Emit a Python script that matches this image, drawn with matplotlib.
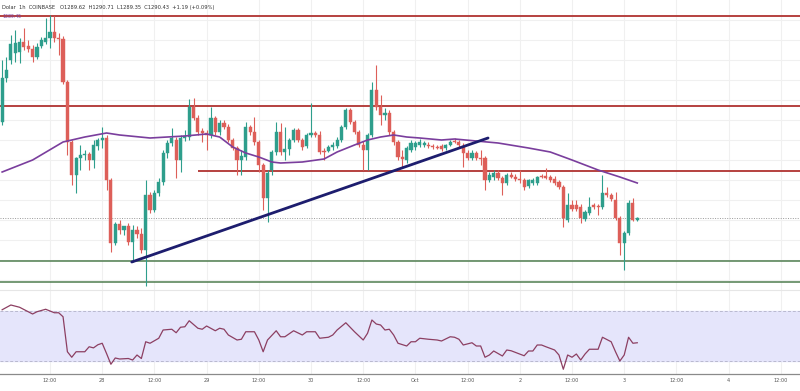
import matplotlib
matplotlib.use("Agg")
import matplotlib.pyplot as plt

# ---------------- data ----------------
hours = list(range(1, 148))  # hourly candles, hours since 27 Sep 00:00

opens = [1299.8,1304.2,1306.0,1306.7,1306.8,1307.8,1307.4,1307.1,1306.3,1307.4,
         1307.8,1308.2,1308.8,1308.2,1308.1,1303.8,1297.8,1294.5,1296.2,1296.5,
         1296.6,1296.0,1297.4,1298.0,1298.2,1294.0,1287.7,1289.6,1289.0,1289.4,
         1287.8,1289.0,1288.6,1287.0,1292.5,1291.0,1292.7,1293.8,1296.7,1297.7,
         1298.0,1296.0,1298.2,1298.3,1301.3,1300.2,1298.9,1298.7,1298.5,1300.2,
         1298.8,1299.7,1299.3,1298.0,1297.2,1296.0,1296.3,1299.3,1298.8,1297.8,
         1295.5,1292.2,1295.0,1296.8,1298.8,1296.8,1297.1,1298.0,1299.0,1298.0,
         1297.4,1298.5,1298.7,1298.5,1296.9,1296.9,1297.3,1297.4,1298.0,1299.3,
         1301.0,1299.8,1298.8,1297.5,1297.0,1298.5,1303.0,1301.3,1300.5,1300.7,
         1298.8,1297.8,1296.3,1296.0,1297.0,1297.3,1297.5,1297.5,1297.5,1297.4,
         1297.3,1297.4,1297.2,1297.5,1297.9,1297.8,1297.4,1296.7,1296.2,1296.7,
         1296.2,1296.2,1294.0,1294.3,1294.7,1294.2,1293.7,1294.5,1294.3,1294.1,
         1294.0,1293.4,1293.7,1293.7,1294.4,1294.4,1294.3,1294.1,1293.8,1293.3,
         1290.0,1291.5,1291.5,1291.3,1290.1,1290.7,1291.5,1291.4,1291.3,1292.7,
         1292.5,1292.0,1290.2,1287.7,1288.7,1291.7,1290.0]
highs = [1306.0,1306.3,1308.5,1309.0,1308.2,1309.2,1308.0,1307.5,1307.7,1308.3,
         1310.2,1310.5,1310.4,1308.7,1308.4,1304.0,1298.0,1296.3,1297.5,1297.0,
         1296.8,1298.0,1298.2,1299.3,1298.5,1294.2,1289.8,1290.0,1289.4,1289.7,
         1289.5,1289.4,1289.2,1294.0,1292.8,1293.0,1294.2,1297.0,1298.0,1299.2,
         1298.3,1298.5,1299.0,1302.1,1302.2,1300.5,1299.2,1299.0,1301.3,1300.4,
         1300.0,1300.0,1299.6,1298.2,1297.4,1297.0,1299.8,1299.5,1300.3,1298.0,
         1295.7,1295.0,1297.0,1299.8,1299.7,1299.3,1298.2,1299.2,1299.2,1298.2,
         1298.7,1301.7,1298.9,1298.9,1297.2,1297.5,1297.8,1298.3,1299.5,1301.2,
         1301.2,1300.0,1299.0,1297.9,1298.7,1303.8,1305.5,1302.5,1301.2,1301.0,
         1299.0,1298.0,1297.0,1297.4,1298.0,1297.9,1298.1,1297.9,1297.8,1297.6,
         1297.5,1297.6,1297.6,1298.0,1298.2,1298.0,1297.7,1297.0,1297.0,1296.9,
         1297.0,1296.4,1294.8,1295.0,1295.0,1294.4,1294.7,1294.8,1294.6,1295.0,
         1294.2,1294.1,1294.2,1294.4,1294.6,1295.2,1294.5,1294.4,1294.0,1293.5,
         1292.7,1292.0,1292.0,1291.6,1291.0,1292.3,1291.7,1291.6,1294.5,1293.3,
         1292.7,1292.8,1290.4,1288.9,1292.0,1292.2,1290.3]
lows = [1299.5,1303.8,1305.6,1305.8,1305.7,1307.0,1306.8,1305.8,1306.1,1307.2,
        1307.6,1307.2,1307.8,1306.5,1303.6,1296.5,1293.5,1292.7,1295.0,1296.0,
        1295.0,1295.2,1297.0,1297.2,1293.0,1286.8,1287.5,1288.6,1288.5,1287.5,
        1285.8,1288.2,1286.7,1283.4,1290.7,1290.8,1292.4,1293.5,1296.2,1297.4,
        1294.2,1294.8,1297.9,1298.0,1300.0,1298.5,1297.8,1297.0,1298.2,1298.5,
        1298.5,1299.1,1297.8,1297.0,1294.5,1294.5,1296.0,1298.5,1297.5,1294.8,
        1291.0,1289.8,1294.5,1296.5,1296.5,1296.0,1296.5,1297.8,1297.8,1297.0,
        1297.2,1298.3,1298.3,1296.6,1296.0,1296.8,1297.0,1297.2,1297.8,1299.1,
        1299.6,1298.6,1297.3,1295.0,1295.0,1298.3,1301.0,1299.5,1300.0,1298.5,
        1297.5,1296.0,1295.3,1295.7,1296.8,1297.0,1297.3,1297.3,1297.2,1297.1,
        1297.1,1296.9,1297.0,1297.4,1297.7,1297.3,1295.3,1296.0,1296.0,1296.0,
        1295.5,1293.0,1293.8,1294.0,1294.0,1292.5,1293.5,1294.2,1293.9,1293.7,
        1293.0,1293.2,1293.5,1293.5,1294.2,1294.1,1293.8,1293.5,1293.1,1289.3,
        1289.8,1290.9,1290.9,1289.7,1289.9,1290.5,1291.1,1290.5,1291.1,1292.3,
        1291.9,1290.0,1286.5,1285.0,1288.5,1289.9,1289.9]
closes = [1304.2,1305.0,1307.6,1307.7,1307.8,1307.3,1307.1,1306.3,1307.3,1308.0,
          1308.2,1308.8,1308.2,1308.1,1303.8,1297.8,1294.5,1296.2,1296.5,1296.6,
          1296.0,1297.5,1298.0,1298.2,1294.0,1287.7,1289.6,1289.0,1289.4,1287.8,
          1289.0,1288.6,1287.0,1292.5,1291.0,1292.7,1293.8,1296.7,1297.7,1298.2,
          1296.0,1298.2,1298.4,1301.3,1300.2,1298.8,1298.7,1298.5,1300.2,1298.8,
          1299.7,1299.3,1298.0,1297.2,1296.0,1296.4,1299.3,1298.8,1297.8,1295.5,
          1292.2,1294.7,1296.8,1298.8,1296.8,1297.1,1298.0,1299.0,1298.0,1297.3,
          1298.5,1298.7,1298.5,1296.8,1296.8,1297.3,1297.5,1298.0,1299.3,1301.0,
          1299.8,1298.8,1297.5,1297.0,1298.5,1303.0,1301.3,1300.5,1300.7,1298.8,
          1297.8,1296.3,1296.1,1297.2,1297.7,1297.7,1297.8,1297.7,1297.45,1297.3,
          1297.25,1297.1,1297.5,1297.8,1297.85,1297.5,1296.7,1296.2,1296.7,1296.2,
          1296.15,1294.0,1294.5,1294.7,1294.2,1293.7,1294.5,1294.3,1294.1,1294.05,
          1293.3,1294.0,1294.0,1294.3,1294.35,1294.2,1294.0,1293.7,1293.3,1290.2,
          1291.5,1291.1,1291.1,1290.2,1290.8,1291.3,1291.3,1291.3,1292.7,1292.5,
          1292.1,1290.2,1287.7,1288.7,1291.7,1290.0,1290.2]

ma_hours = [1, 8, 15, 20, 25, 28, 35, 43, 48, 51, 54, 57, 60, 63, 65, 70, 75, 78,
            82, 85, 88, 91, 94, 97, 102, 105, 110, 115, 122, 127, 132, 138, 143, 147]
ma_values = [1294.8, 1296.0, 1297.8, 1298.3, 1298.7, 1298.5, 1298.2, 1298.4, 1298.6,
             1298.3, 1297.3, 1296.7, 1296.3, 1295.8, 1295.7, 1295.8, 1296.1, 1296.8,
             1297.5, 1298.0, 1298.3, 1298.5, 1298.3, 1298.2, 1298.0, 1298.1, 1297.9,
             1297.7, 1297.2, 1296.8, 1296.0, 1295.0, 1294.3, 1293.7]

rsi_hours = [1,3,5,8,9,11,13,14,15,16,17,18,20,21,22,23,24,25,26,27,28,30,31,32,33,
             34,35,37,38,40,41,42,43,44,46,47,48,50,51,52,53,55,56,57,59,60,61,62,
             64,65,66,68,70,71,73,74,76,77,78,80,82,84,85,86,87,88,89,90,91,92,94,
             95,96,97,99,101,102,104,105,106,107,109,110,111,112,113,114,116,117,
             118,121,122,123,124,125,126,128,129,130,131,132,133,134,135,136,138,
             139,141,142,143,144,145,146,147]
rsi_values = [71.0,74.8,73.0,67.6,69.4,71.4,68.6,68.6,65.4,37.4,33.0,37.4,37.4,41.4,
              40.5,43.0,44.2,36.0,27.4,32.4,31.6,32.0,30.8,34.8,32.0,45.4,44.2,48.2,
              54.8,55.4,52.6,57.0,57.4,62.2,56.2,55.4,58.0,54.2,56.2,55.4,50.8,46.8,
              47.4,53.4,53.4,46.8,37.4,46.8,54.2,49.4,49.4,54.2,50.8,53.4,53.4,48.2,
              49.0,50.8,54.8,60.6,53.4,46.8,52.2,62.8,59.6,58.8,54.8,55.4,50.8,44.2,
              42.0,45.4,45.4,48.2,47.4,46.8,46.0,49.4,49.0,47.4,42.8,44.6,42.0,42.0,
              33.0,34.8,38.0,34.0,38.8,38.2,34.2,38.0,38.0,42.8,42.8,41.4,38.8,34.8,
              23.4,34.8,33.0,35.6,30.8,35.6,39.4,39.4,49.0,45.4,37.4,30.0,34.8,49.0,
              44.2,44.6]

red_levels = [1310.4, 1301.4]
red_partial_level = 1294.9
red_partial_start = 46
green_levels = [1285.9, 1283.8]
last_price = 1290.2
trend_hours = [30.8, 112.7]
trend_prices = [1285.8, 1298.2]

tick_hours = list(range(12, 181, 12))
tick_labels = ["12:00", "28", "12:00", "29", "12:00", "30", "12:00", "Oct",
               "12:00", "2", "12:00", "3", "12:00", "4", "12:00"]

title = "Dolar  1h  COINBASE   O1289.62  H1290.71  L1289.35  C1290.43  +1.19 (+0.09%)"

# ---------------- figure ----------------
W, H = 800, 391
fig = plt.figure(figsize=(W / 100, H / 100), dpi=100)
fig.patch.set_facecolor("white")

x0, x1 = 0.506, 184.41
main_bottom, main_top = 290, 0
rsi_top, rsi_bottom = 290, 374

ax = fig.add_axes([0, (H - main_bottom) / H, 1, (main_bottom - main_top) / H])
rx = fig.add_axes([0, (H - rsi_bottom) / H, 1, (rsi_bottom - rsi_top) / H])

up_col = "#2e9e8c"
dn_col = "#dd5f59"
grid_col = "#f0f0f0"

for a in (ax, rx):
    a.set_xlim(x0, x1)
    a.set_facecolor("white")
    for t in tick_hours:
        a.axvline(t, color=grid_col, lw=0.8, zorder=0)

ax.set_ylim(1283.0, 1312.0)
for p in range(1284, 1312, 2):
    ax.axhline(p, color=grid_col, lw=0.8, zorder=0)

# candles
for h, o, hi, lo, c in zip(hours, opens, highs, lows, closes):
    col = up_col if c >= o else dn_col
    ax.vlines(h, lo, hi, color=col, lw=0.8, zorder=3)
    bottom = min(o, c)
    height = max(abs(c - o), 0.08)
    ax.bar(h, height, bottom=bottom, width=0.72, color=col, edgecolor=col,
           linewidth=0.3, zorder=4)

# levels
for lv in red_levels:
    ax.axhline(lv, color="#b5413f", lw=1.4, zorder=2)
ax.hlines(red_partial_level, red_partial_start, x1, color="#b5413f", lw=1.4, zorder=2)
for lv in green_levels:
    ax.axhline(lv, color="#4f7d4f", lw=1.1, zorder=2)
ax.axhline(last_price, color="#9a9a9a", lw=0.7, ls=(0, (1, 1.5)), zorder=2)

# moving average & trend line
ax.plot(ma_hours, ma_values, color="#7a3e9d", lw=1.2, zorder=5)
ax.plot(trend_hours, trend_prices, color="#1d1d6e", lw=2.0, zorder=6,
        solid_capstyle="round")

ax.set_xticks([])
ax.set_yticks([])
for s in ax.spines.values():
    s.set_visible(False)

# RSI panel
rx.set_ylim(19.6, 86.8)
rx.axhspan(30, 70, color="#e5e5fb", zorder=0)
rx.axhline(70, color="#b9b9cf", lw=0.7, ls=(0, (3, 2)), zorder=1)
rx.axhline(30, color="#b9b9cf", lw=0.7, ls=(0, (3, 2)), zorder=1)
rx.plot(rsi_hours, rsi_values, color="#8c3f62", lw=0.9, zorder=3)
rx.set_yticks([])
rx.set_xticks(tick_hours)
rx.set_xticklabels(tick_labels, fontsize=3.6, color="#555555")
rx.tick_params(axis="x", length=0, pad=3)
for k, s in rx.spines.items():
    s.set_visible(k in ("bottom", "top"))
rx.spines["bottom"].set_color("#8a8a8a")
rx.spines["bottom"].set_linewidth(0.9)
rx.spines["top"].set_color("#e6e6e6")
rx.spines["top"].set_linewidth(0.8)

# header texts
fig.text(2 / W, 1 - 8 / H, title, fontsize=3.7, color="#333333", va="center", ha="left")
fig.text(2 / W, 1 - 17 / H, "1289.45", fontsize=3.3, color="#7a3e9d", va="center", ha="left")

fig.savefig("out.png", dpi=100, facecolor="white")
